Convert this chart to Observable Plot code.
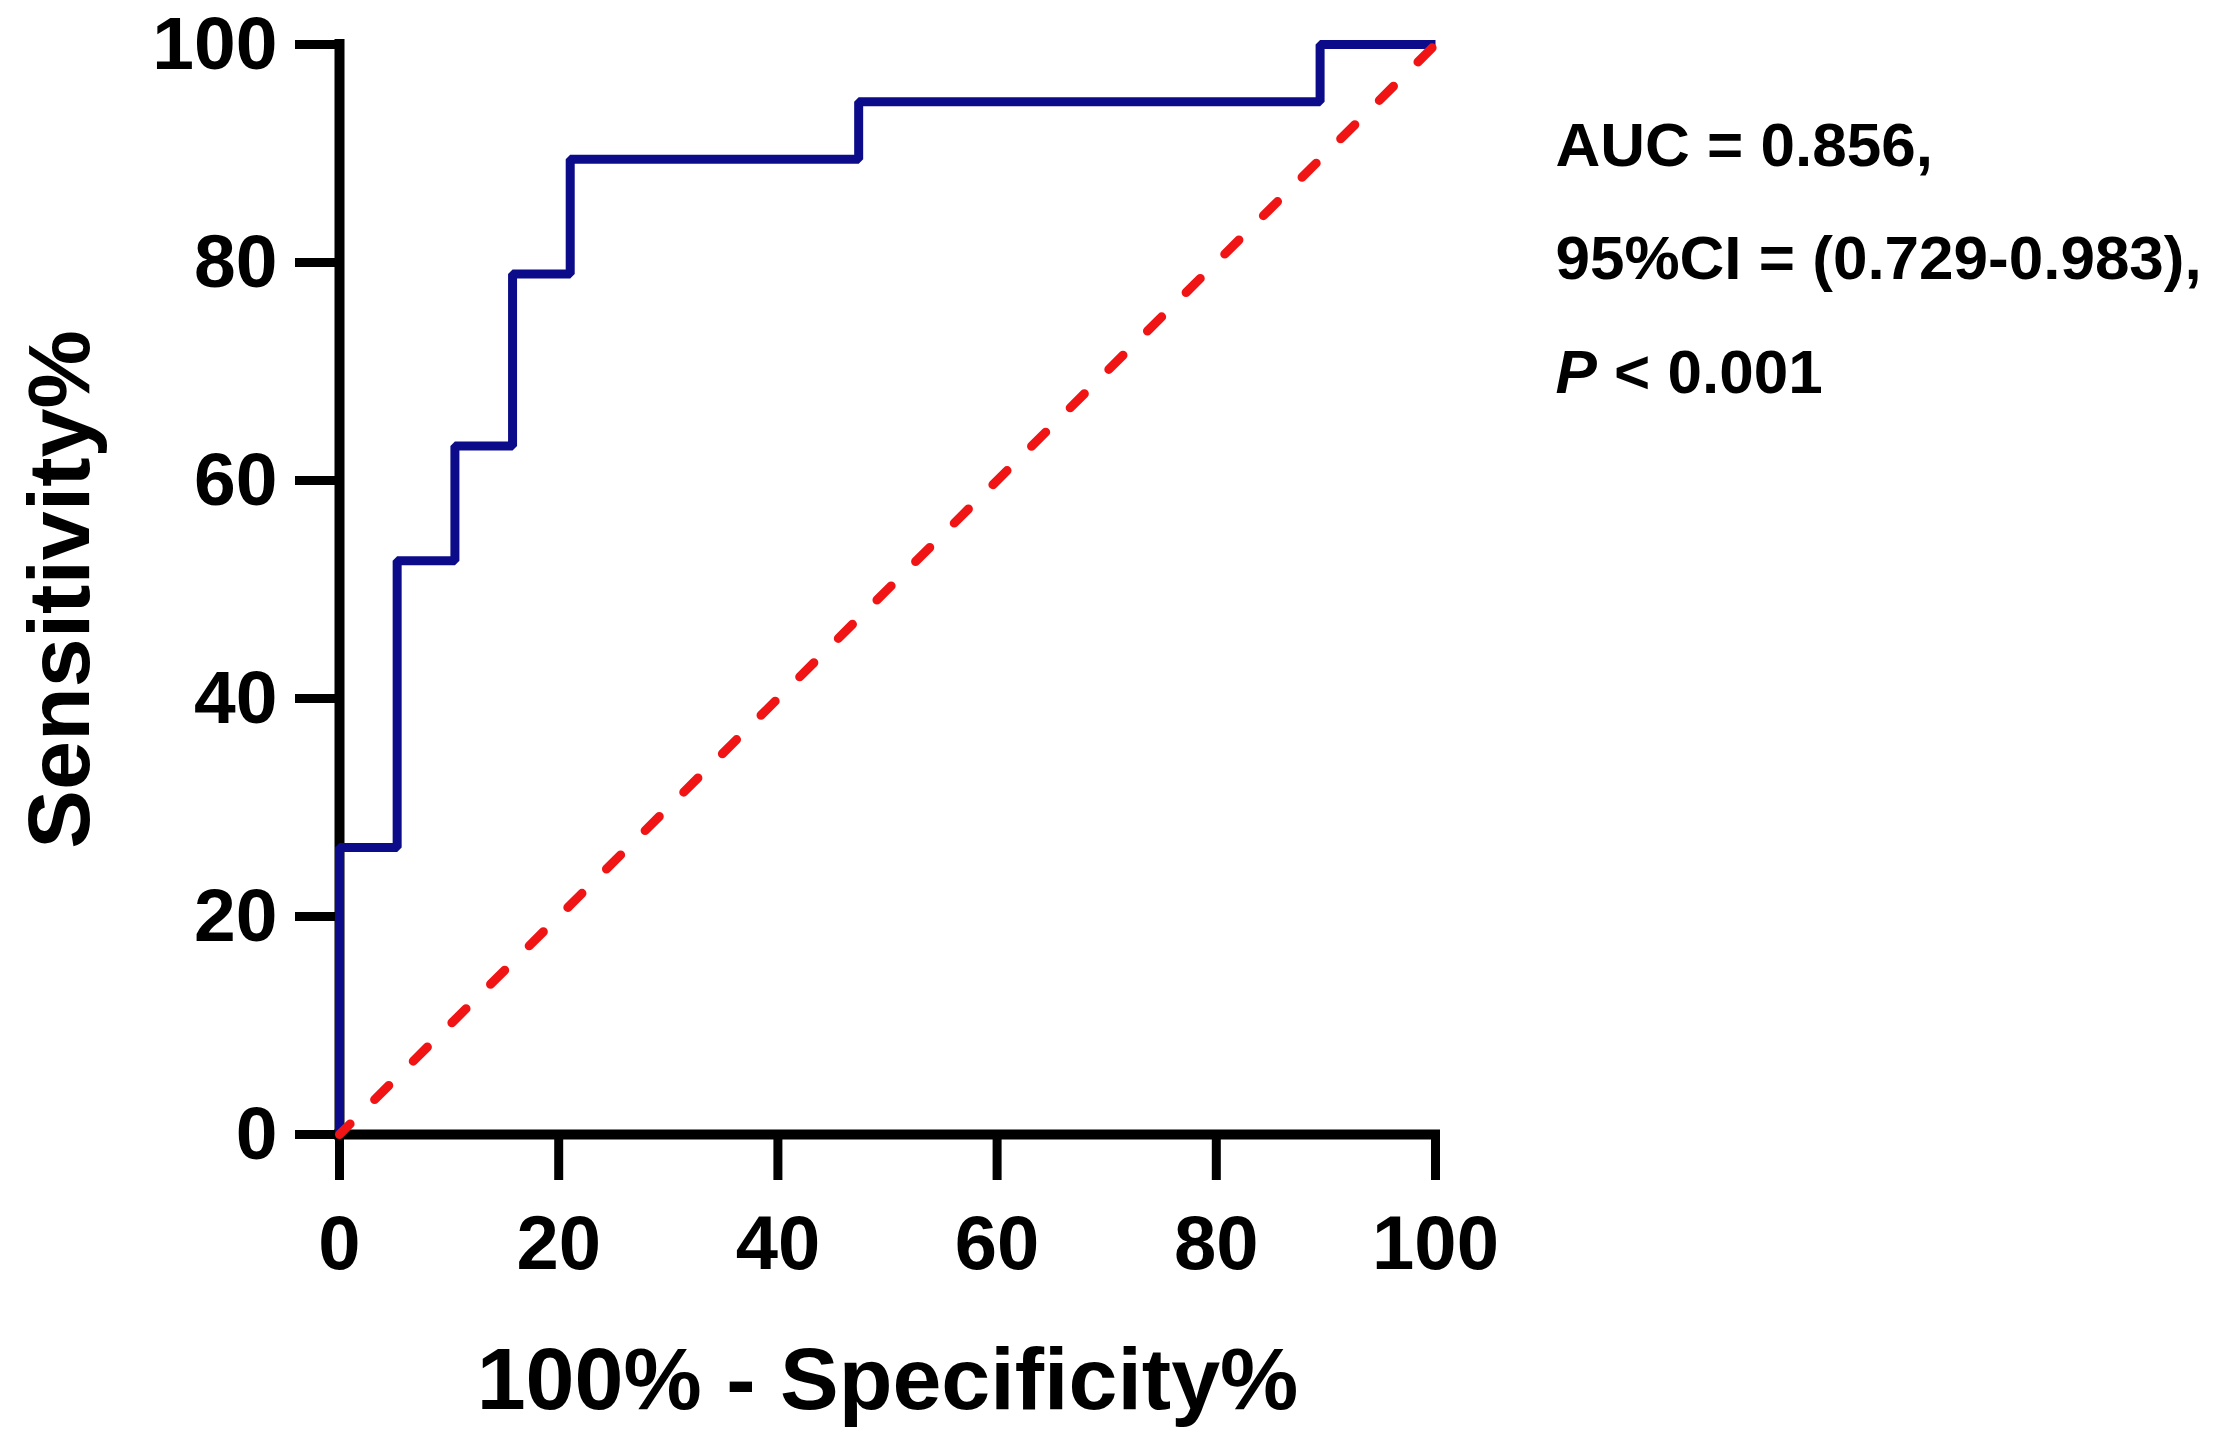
<!DOCTYPE html>
<html><head><meta charset="utf-8">
<script src="https://cdn.jsdelivr.net/npm/d3@7"></script>
<script src="https://cdn.jsdelivr.net/npm/@observablehq/plot@0.6"></script>
<style>html,body{margin:0;padding:0;background:#fff;overflow:hidden}svg{display:block}</style>
</head><body><div id="chart"></div>
<script>
// ROC staircase corner points (100% - specificity %, sensitivity %)
const fpr = [0, 0, 5.26, 10.53, 15.79, 21.05, 47.37, 89.47, 100];
const tpr = [0, 26.32, 52.63, 63.16, 78.95, 89.47, 94.74, 100, 100];
// reference diagonal
const diagX = [0, 100];
const diagY = [0, 100];
const tickValues = [0, 20, 40, 60, 80, 100];
const xLabel = "100% - Specificity%";
const yLabel = "Sensitivity%";
const annotLines = ["AUC = 0.856,", "95%CI = (0.729-0.983),", "P < 0.001"];

const roc = fpr.map((x, i) => ({x, y: tpr[i]}));
const diag = diagX.map((x, i) => ({x, y: diagY[i]}));
const font = "'Liberation Sans', Arial, sans-serif";
const annotDy = [121, 234, 348];

const chart = Plot.plot({
  width: 2217, height: 1442,
  marginLeft: 339, marginRight: 782, marginTop: 44, marginBottom: 308,
  style: {fontFamily: font, background: "white", color: "black"},
  x: {domain: [0, 100]},
  y: {domain: [0, 100]},
  marks: [
    Plot.axisX({ticks: tickValues, tickSize: 46, tickPadding: 35, strokeWidth: 9, fontSize: 76, fontWeight: "bold", fontFamily: font, label: null, tickFormat: d => String(d)}),
    Plot.axisY({ticks: tickValues, tickSize: 44, tickPadding: 18, strokeWidth: 9, fontSize: 75, fontWeight: "bold", fontFamily: font, label: null, tickFormat: d => String(d)}),
    Plot.ruleX([0], {y1: 0, y2: 100, strokeWidth: 10, strokeLinecap: "square"}),
    Plot.ruleY([0], {x1: 0, x2: 100, strokeWidth: 10, strokeLinecap: "square"}),
    Plot.line(roc, {x: "x", y: "y", curve: "step-after", stroke: "#0c0c8a", strokeWidth: 9, strokeLinejoin: "miter", strokeLinecap: "butt"}),
    Plot.line(diag, {x: "x", y: "y", stroke: "#f01414", strokeWidth: 9, strokeDasharray: "20,34.5", strokeDashoffset: 5, strokeLinecap: "round"}),
    Plot.text([xLabel], {frameAnchor: "bottom", text: d => d, dy: 274, lineAnchor: "bottom", textAnchor: "middle", fontSize: 88, fontWeight: "bold", fontFamily: font}),
    Plot.text([yLabel], {frameAnchor: "left", text: d => d, rotate: -90, dx: -251, lineAnchor: "bottom", textAnchor: "middle", fontSize: 88, fontWeight: "bold", fontFamily: font}),
    ...annotLines.map((line, i) => Plot.text([line], {frameAnchor: "top-right", text: d => d, dx: 120, dy: annotDy[i], textAnchor: "start", lineAnchor: "bottom", fontSize: 62, fontWeight: "bold", fontFamily: font}))
  ]
});
document.getElementById("chart").appendChild(chart);

// italic P in the p-value line
d3.select(chart).selectAll("text").each(function () {
  if (this.textContent === annotLines[2]) {
    const el = d3.select(this);
    const rest = annotLines[2].slice(1);
    el.text(null);
    el.append("tspan").attr("font-style", "italic").text(annotLines[2][0]);
    el.append("tspan").text(rest);
  }
});
</script>
</body></html>
